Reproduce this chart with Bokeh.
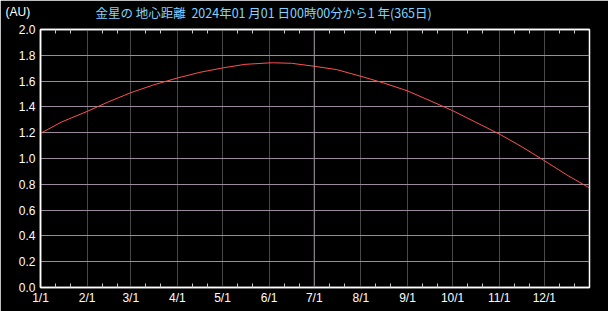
import pandas as pd
from bokeh.plotting import figure
from bokeh.models import FixedTicker, LinearAxis, Span, NumeralTickFormatter, Title
from bokeh.embed import file_html
from bokeh.resources import INLINE

# ---- data ----
dates = [
    "2024-01-01", "2024-01-15", "2024-02-01", "2024-02-15", "2024-03-01", "2024-03-16",
    "2024-04-01", "2024-04-16", "2024-05-01", "2024-05-16", "2024-06-01", "2024-06-04",
    "2024-06-16", "2024-07-01", "2024-07-16", "2024-08-01", "2024-08-16", "2024-09-01",
    "2024-09-16", "2024-10-01", "2024-10-16", "2024-11-01", "2024-11-16", "2024-12-01",
    "2024-12-16", "2024-12-31",
]
distance_au = [
    1.195, 1.283, 1.365, 1.438, 1.510, 1.570,
    1.624, 1.668, 1.702, 1.730, 1.741, 1.742,
    1.738, 1.715, 1.689, 1.637, 1.586, 1.524,
    1.448, 1.371, 1.283, 1.190, 1.091, 0.983,
    0.872, 0.771,
]
month_starts = [
    "2024-01-01", "2024-02-01", "2024-03-01", "2024-04-01", "2024-05-01", "2024-06-01",
    "2024-07-01", "2024-08-01", "2024-09-01", "2024-10-01", "2024-11-01", "2024-12-01",
]
month_labels = ["1/1", "2/1", "3/1", "4/1", "5/1", "6/1",
                "7/1", "8/1", "9/1", "10/1", "11/1", "12/1"]
y_ticks = [0.0, 0.2, 0.4, 0.6, 0.8, 1.0, 1.2, 1.4, 1.6, 1.8, 2.0]
title_text = "金星の 地心距離\u00a0\u00a02024年01 月01 日00時00分から1 年(365日)"
unit_text = "(AU)"

origin = pd.Timestamp("2024-01-01")
def day(d):
    return (pd.Timestamp(d) - origin).days

xs = [day(d) for d in dates]
major = [day(d) for d in month_starts]
minor = []
for m in major:
    minor += [m + 10, m + 20]

BG = "black"
FONT = "Liberation Sans"

p = figure(width=608, height=311, x_range=(0, 365), y_range=(0, 2.0),
           background_fill_color=BG, border_fill_color=BG,
           outline_line_color="white", outline_line_width=1.5,
           min_border_left=40, min_border_right=19, min_border_top=29, min_border_bottom=24,
           output_backend="svg", toolbar_location=None, x_axis_location=None, y_axis_location=None)

ticker = FixedTicker(ticks=major, minor_ticks=minor)

bottom = LinearAxis(ticker=ticker)
bottom.major_label_overrides = {m: lab for m, lab in zip(major, month_labels)}
bottom.major_label_text_color = "white"
bottom.major_label_text_font = FONT
bottom.major_label_text_font_size = "12px"
bottom.major_label_standoff = 3
bottom.major_tick_in = 0
bottom.major_tick_out = 0
bottom.minor_tick_in = 4
bottom.minor_tick_out = 0
bottom.minor_tick_line_color = "#c8c8c8"
bottom.axis_line_color = "white"
bottom.axis_line_width = 1.5
p.add_layout(bottom, "below")

# top border: inward minor ticks only; its (blank, background-coloured) labels give the title row its room
top = LinearAxis(ticker=ticker)
top.major_label_overrides = {m: "\u00a0" for m in major}
top.major_label_text_color = BG
top.major_label_text_font_size = "1px"
top.major_label_standoff = 13
top.major_tick_in = 0
top.major_tick_out = 0
top.minor_tick_in = 4
top.minor_tick_out = 0
top.minor_tick_line_color = "#c8c8c8"
top.axis_line_color = "white"
top.axis_line_width = 1.5
p.add_layout(top, "above")

left = LinearAxis(ticker=FixedTicker(ticks=y_ticks), formatter=NumeralTickFormatter(format="0.0"))
left.major_label_text_color = "white"
left.major_label_text_font = FONT
left.major_label_text_font_size = "12px"
left.major_label_standoff = 5
left.major_tick_in = 0
left.major_tick_out = 0
left.minor_tick_in = 0
left.minor_tick_out = 0
left.axis_line_color = "white"
left.axis_line_width = 1.5
p.add_layout(left, "left")

p.xgrid.ticker = FixedTicker(ticks=major)
p.xgrid.grid_line_color = "#484848"
p.xgrid.grid_line_width = 1
p.ygrid.ticker = FixedTicker(ticks=y_ticks)
p.ygrid.grid_line_color = "#9a8c9c"
p.ygrid.grid_line_width = 1

p.add_layout(Span(location=day("2024-07-01"), dimension="height",
                  line_color="#9a8c9c", line_width=1))

p.line(xs, distance_au, line_color="#ff5050", line_width=1)

p.add_layout(Title(text=title_text, align="left", offset=55, text_color="#80d4ff",
                   text_font="Noto Sans CJK JP", text_font_size="12.5px",
                   text_font_style="normal", vertical_align="middle", standoff=-20), "above")
p.add_layout(Title(text=unit_text, align="left", offset=-35, text_color="white",
                   text_font=FONT, text_font_size="12px",
                   text_font_style="normal", vertical_align="middle", standoff=-16), "above")

open("out.html", "w").write(file_html(p, INLINE))
